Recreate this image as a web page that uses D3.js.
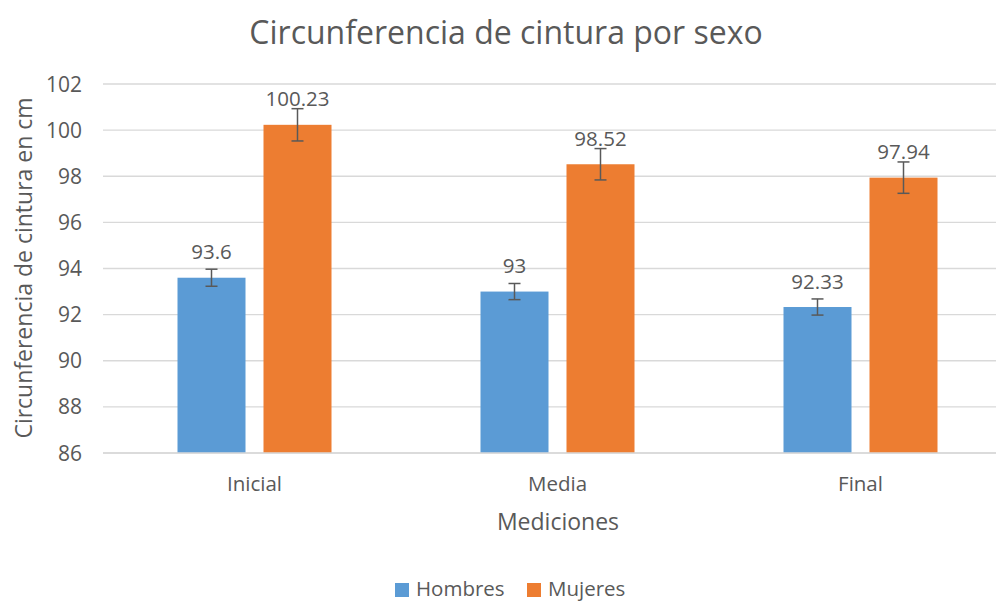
<!DOCTYPE html>
<html><head><meta charset="utf-8">
<script src="https://cdn.jsdelivr.net/npm/d3@7"></script>
<style>body{margin:0;background:#fff;} text{font-family:"Open Sans","Noto Sans",sans-serif;fill:#595959;}</style>
</head><body><svg id="c" width="996" height="602"></svg>
<script>
const categories = ["Inicial", "Media", "Final"];
const seriesNames = ["Hombres", "Mujeres"];
const hombres = [93.6, 93, 92.33];
const mujeres = [100.23, 98.52, 97.94];
const hombresErr = [0.37, 0.35, 0.35];
const mujeresErr = [0.7, 0.68, 0.68];
const labels = [["93.6","93","92.33"],["100.23","98.52","97.94"]];
const yTicks = [86, 88, 90, 92, 94, 96, 98, 100, 102];
const colors = ["#5B9BD5", "#ED7D31"];

(function(){
const svg = d3.select("#c");
const pLeft = 103, pRight = 1012, pTop = 84, pBottom = 453;
const x = d3.scaleBand().domain(categories).range([pLeft, pRight]);
const y = d3.scaleLinear().domain([86, 102]).range([pBottom, pTop]);

svg.append("g").selectAll("line").data(yTicks).join("line")
  .attr("x1", pLeft).attr("x2", pRight).attr("y1", d => y(d)).attr("y2", d => y(d))
  .attr("stroke", "#d9d9d9").attr("stroke-width", 1.3);

svg.append("g").selectAll("text").data(yTicks).join("text")
  .attr("x", 82).attr("y", d => y(d)).attr("dy", "0.36em").attr("text-anchor", "end")
  .style("font-size", "21px").text(d => d);

const series = [hombres, mujeres];
const errs = [hombresErr, mujeresErr];
const bw = 68;
series.forEach((vals, si) => {
  const g = svg.append("g");
  const xs = (i) => x(categories[i]) + x.bandwidth()/2 + (si === 0 ? -9 - bw : 9);
  g.selectAll("rect").data(vals).join("rect")
    .attr("x", (d, i) => xs(i)).attr("width", bw)
    .attr("y", d => y(d)).attr("height", d => pBottom - y(d))
    .attr("fill", colors[si]);
  vals.forEach((d, i) => {
    const cx = xs(i) + bw/2, e = errs[si][i];
    g.append("line").attr("x1", cx).attr("x2", cx).attr("y1", y(d+e)).attr("y2", y(d-e)).attr("stroke", "#595959").attr("stroke-width", 1.5);
    [d+e, d-e].forEach(v => g.append("line").attr("x1", cx-6).attr("x2", cx+6).attr("y1", y(v)).attr("y2", y(v)).attr("stroke", "#595959").attr("stroke-width", 1.5));
    g.append("text").attr("x", cx).attr("y", y(d) - 18.5).attr("text-anchor", "middle")
      .style("font-size", "20.5px").text(labels[si][i]);
  });
});

svg.append("line").attr("x1", pLeft).attr("x2", pRight).attr("y1", pBottom).attr("y2", pBottom).attr("stroke", "#d9d9d9").attr("stroke-width", 1.3);

svg.append("g").selectAll("text").data(categories).join("text")
  .attr("x", d => x(d) + x.bandwidth()/2).attr("y", 491).attr("text-anchor", "middle")
  .style("font-size", "20.5px").text(d => d);

svg.append("text").attr("x", 506).attr("y", 44).attr("text-anchor", "middle").style("font-size", "32px").text("Circunferencia de cintura por sexo");
svg.append("text").attr("x", 558).attr("y", 530).attr("text-anchor", "middle").style("font-size", "23px").text("Mediciones");
svg.append("text").attr("transform", "translate(32,268) rotate(-90)").attr("text-anchor", "middle").style("font-size", "23px").text("Circunferencia de cintura en cm");

const leg = svg.append("g");
const legX = [395, 527];
seriesNames.forEach((n, i) => {
  leg.append("rect").attr("x", legX[i]).attr("y", 583).attr("width", 14).attr("height", 14).attr("fill", colors[i]);
  leg.append("text").attr("x", legX[i] + 21).attr("y", 596).style("font-size", "20.5px").text(n);
});
})();
</script></body></html>
